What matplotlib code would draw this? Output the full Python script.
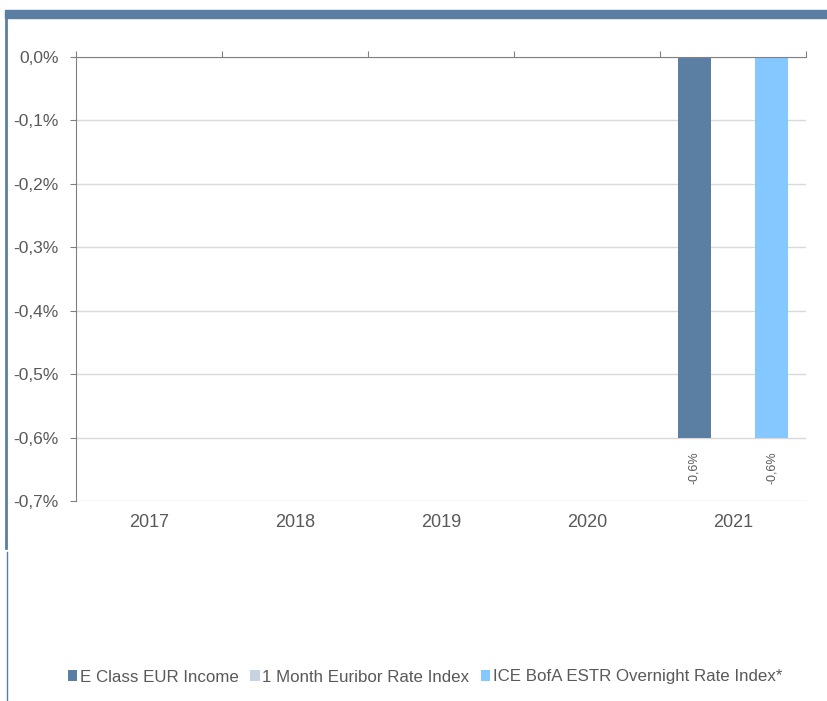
import numpy as np
import matplotlib.pyplot as plt
from matplotlib.patches import Rectangle
from matplotlib.lines import Line2D

# dados
anos = ["2017", "2018", "2019", "2020", "2021"]
series = ["E Class EUR Income", "1 Month Euribor Rate Index", "ICE BofA ESTR Overnight Rate Index*"]
e_class = [np.nan, np.nan, np.nan, np.nan, -0.6]
euribor = [np.nan, np.nan, np.nan, np.nan, np.nan]
ice_estr = [np.nan, np.nan, np.nan, np.nan, -0.6]
cores = ["#5B7FA3", "#C5D3E2", "#85C8FF"]
rotulos_y = ["0,0%", "-0,1%", "-0,2%", "-0,3%", "-0,4%", "-0,5%", "-0,6%", "-0,7%"]

plt.rcParams['font.family'] = ['Liberation Sans', 'DejaVu Sans']
fig = plt.figure(figsize=(8.28, 7.01), dpi=100)
ax = fig.add_axes([76/828, 1-501/701, 730/828, 444/701])

x = np.arange(len(anos))
larg = 0.226
passo = 0.267
for i, (vals, cor, nome) in enumerate(zip([e_class, euribor, ice_estr], cores, series)):
    pos = x + (i - 1) * passo
    ax.bar(pos, vals, width=larg, color=cor, label=nome)
    for p, v in zip(pos, vals):
        if not np.isnan(v):
            ax.text(p, v - 0.022, f"{v:.1f}%".replace(".", ","), rotation=90,
                    ha="center", va="top", fontsize=9, color="#595959")

ax.set_xlim(-0.5, len(anos) - 0.5)
ax.set_ylim(-0.7, 0)
ax.set_yticks(np.arange(0, -0.71, -0.1))
ax.set_yticklabels(rotulos_y, fontsize=12.5, color="#595959")
ax.yaxis.grid(True, color="#D9D9D9", lw=1)
ax.set_axisbelow(True)

# eixo x no topo (linha do zero), rótulos embaixo
ax.set_xticks(np.arange(-0.5, len(anos)))
ax.set_xticklabels([])
ax.xaxis.set_ticks_position("top")
ax.tick_params(axis="x", direction="out", length=4, color="#808080")
ax.tick_params(axis="y", direction="out", length=4.5, color="#808080", pad=8)
for i, a in enumerate(anos):
    ax.text(i, -0.7345, a, ha="center", va="center", fontsize=13, color="#595959")

for s in ["right", "bottom"]:
    ax.spines[s].set_visible(False)
ax.spines["top"].set_color("#808080")
ax.spines["left"].set_color("#808080")

# legenda
ax.legend(loc="center", bbox_to_anchor=(425/828, 1 - 677/701), bbox_transform=fig.transFigure,
          ncol=3, frameon=False, fontsize=12.2, handlelength=0.55, handleheight=0.55,
          handletextpad=0.15, columnspacing=0.7, labelcolor="#595959")

# moldura azul
fig.patches.append(Rectangle((5/828, 1-18/701), 823/828, 8/701, transform=fig.transFigure,
                             color="#5B7FA3", zorder=0))
fig.lines.append(Line2D([6/828, 6/828], [1-18/701, 1-548/701], transform=fig.transFigure,
                        color="#5B7FA3", lw=2))
fig.lines.append(Line2D([7/828, 7/828], [1-552/701, 0], transform=fig.transFigure,
                        color="#5B7FA3", lw=1))

plt.savefig("out.png", dpi=100)
